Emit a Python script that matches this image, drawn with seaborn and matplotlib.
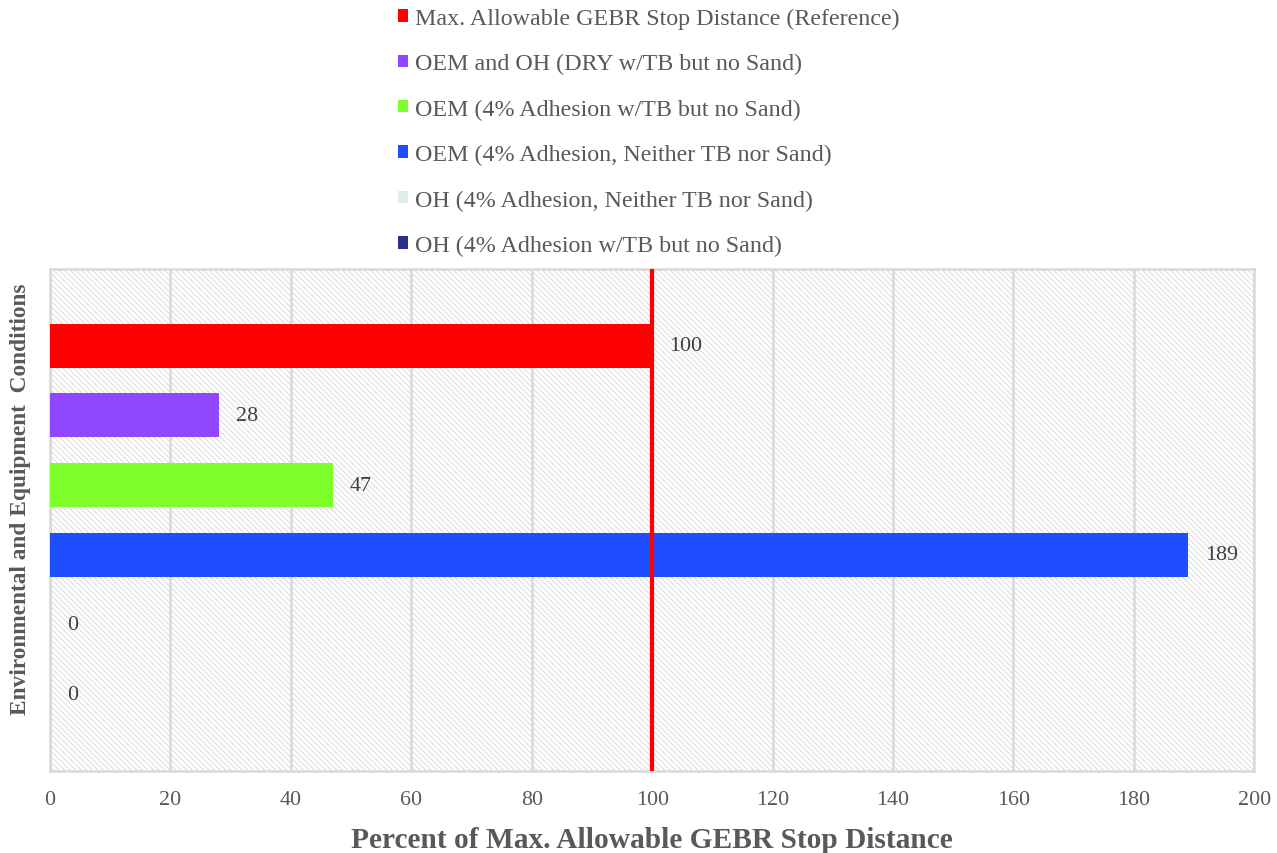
import matplotlib
matplotlib.use('Agg')
import matplotlib.pyplot as plt
import seaborn as sns
import pandas as pd
from matplotlib.patches import Rectangle

# data
conditions = [
    'Max. Allowable GEBR Stop Distance (Reference)',
    'OEM and OH (DRY w/TB but no Sand)',
    'OEM (4% Adhesion w/TB but no Sand)',
    'OEM (4% Adhesion, Neither TB nor Sand)',
    'OH (4% Adhesion, Neither TB nor Sand)',
    'OH (4% Adhesion w/TB but no Sand)',
]
percents = [100, 28, 47, 189, 0, 0]
bar_colors = ['#FF0000', '#9146FF', '#7FFF2A', '#1F4EFF', '#DDEEEE', '#2B2F85']
xticks = [0, 20, 40, 60, 80, 100, 120, 140, 160, 180, 200]
reference_line = 100

sns.set_theme(style='white')
plt.rcParams['font.family'] = ['Liberation Serif', 'DejaVu Serif']
plt.rcParams['hatch.linewidth'] = 0.6

grey_txt = '#595959'
df = pd.DataFrame({'condition': conditions, 'percent': percents})

fig = plt.figure(figsize=(12.77, 8.54), dpi=100)
ax = fig.add_axes([0.0392, 0.096, 0.943, 0.588])

# hatched plot area background
ax.add_patch(Rectangle((0, 0), 1, 1, transform=ax.transAxes, facecolor='white',
                       edgecolor='#D6D6D6', linewidth=0, hatch='\\\\\\\\\\\\',
                       zorder=0))

sns.barplot(data=df, y='condition', x='percent', hue='condition', palette=bar_colors,
            order=conditions, hue_order=conditions, dodge=False, width=0.63,
            saturation=1, legend=True, ax=ax, zorder=3, linewidth=0)

for i, v in enumerate(percents):
    ax.text(v + 2.8, i, f'{v}', va='center', ha='left',
            fontsize=15.8, color='#404040', zorder=5)

ax.axvline(reference_line, color='#FF0000', linewidth=3, zorder=4)

ax.set_xlim(0, 200)
ax.set_ylim(6.1, -1.1)
ax.set_xticks(xticks)
ax.set_yticks([])
ax.tick_params(axis='x', labelsize=15.8, labelcolor=grey_txt, length=0, pad=14)
ax.grid(axis='x', color='#D9D9D9', linewidth=1.8, zorder=1)
for gl in ax.get_xgridlines():
    gl.set_zorder(1)
for s in ax.spines.values():
    s.set_color('#D9D9D9')
    s.set_linewidth(1.8)

ax.set_xlabel('Percent of Max. Allowable GEBR Stop Distance', fontsize=21.2,
              fontweight='bold', color=grey_txt, labelpad=12)
ax.set_ylabel('Environmental and Equipment  Conditions', fontsize=16.8,
              fontweight='bold', color=grey_txt)
ax.yaxis.set_label_coords(-0.016, 0.544)

handles, labels = ax.get_legend_handles_labels()
ax.legend(handles, labels, loc='upper left', bbox_to_anchor=(0.2946, 1.015),
          bbox_transform=fig.transFigure, frameon=False, fontsize=17.3,
          handlelength=0.42, handleheight=0.42, handletextpad=0.3,
          labelspacing=1.01, labelcolor=grey_txt)

fig.savefig('out.png', dpi=100)
